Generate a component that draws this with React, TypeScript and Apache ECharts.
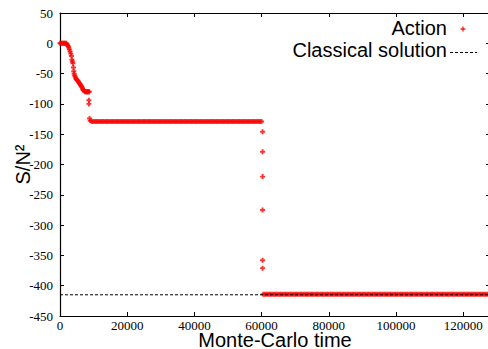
import React, { useEffect, useRef } from "react";
import * as echarts from "echarts";

// Monte-Carlo time and action S/N^2
const earlyTimes = [0, 300, 600, 900, 1200, 1500, 1800, 2000, 2200, 2400, 2600, 2800, 3000, 3200, 3400, 3550, 3700, 3850, 4000, 4100, 4200, 4350, 4500, 4700, 4900, 5100, 5300, 5500, 5700, 5900, 6100, 6300, 6500, 6700, 6900, 7100, 7300, 7500, 7700, 7900, 8100, 8300, 8500, 8700, 8600, 8600, 8800, 9000];
const earlyAction = [0, 0, 0, 0, 0, 0, 0, -1, -2.5, -4.5, -7, -10, -13.5, -17, -21, -27, -30, -33, -40, -46, -50, -53, -55, -58, -59.5, -60.5, -62, -63.5, -65.5, -67, -68.5, -70.5, -72, -74.5, -77, -78, -79, -80, -80, -80, -80, -80, -80, -80, -94, -100, -124, -128];

const plateau1Times = [
  9500, 10000, 10500, 11000, 11500, 12000, 12500, 13000, 13500, 14000,
  14500, 15000, 15500, 16000, 16500, 17000, 17500, 18000, 18500, 19000,
  19500, 20000, 20500, 21000, 21500, 22000, 22500, 23000, 23500, 24000,
  24500, 25000, 25500, 26000, 26500, 27000, 27500, 28000, 28500, 29000,
  29500, 30000, 30500, 31000, 31500, 32000, 32500, 33000, 33500, 34000,
  34500, 35000, 35500, 36000, 36500, 37000, 37500, 38000, 38500, 39000,
  39500, 40000, 40500, 41000, 41500, 42000, 42500, 43000, 43500, 44000,
  44500, 45000, 45500, 46000, 46500, 47000, 47500, 48000, 48500, 49000,
  49500, 50000, 50500, 51000, 51500, 52000, 52500, 53000, 53500, 54000,
  54500, 55000, 55500, 56000, 56500, 57000, 57500, 58000, 58500, 59000,
  59500, 60000,
];
const plateau1Action = [
  -129, -129, -129, -129, -129, -129, -129, -129, -129, -129,
  -129, -129, -129, -129, -129, -129, -129, -129, -129, -129,
  -129, -129, -129, -129, -129, -129, -129, -129, -129, -129,
  -129, -129, -129, -129, -129, -129, -129, -129, -129, -129,
  -129, -129, -129, -129, -129, -129, -129, -129, -129, -129,
  -129, -129, -129, -129, -129, -129, -129, -129, -129, -129,
  -129, -129, -129, -129, -129, -129, -129, -129, -129, -129,
  -129, -129, -129, -129, -129, -129, -129, -129, -129, -129,
  -129, -129, -129, -129, -129, -129, -129, -129, -129, -129,
  -129, -129, -129, -129, -129, -129, -129, -129, -129, -129,
  -129, -129,
];

const jumpTimes = [60300, 60300, 60300, 60300, 60300, 60300];
const jumpAction = [-146, -179, -220, -275, -358, -371];

const plateau2Times = [
  60500, 61000, 61500, 62000, 62500, 63000, 63500, 64000, 64500, 65000,
  65500, 66000, 66500, 67000, 67500, 68000, 68500, 69000, 69500, 70000,
  70500, 71000, 71500, 72000, 72500, 73000, 73500, 74000, 74500, 75000,
  75500, 76000, 76500, 77000, 77500, 78000, 78500, 79000, 79500, 80000,
  80500, 81000, 81500, 82000, 82500, 83000, 83500, 84000, 84500, 85000,
  85500, 86000, 86500, 87000, 87500, 88000, 88500, 89000, 89500, 90000,
  90500, 91000, 91500, 92000, 92500, 93000, 93500, 94000, 94500, 95000,
  95500, 96000, 96500, 97000, 97500, 98000, 98500, 99000, 99500, 100000,
  100500, 101000, 101500, 102000, 102500, 103000, 103500, 104000, 104500, 105000,
  105500, 106000, 106500, 107000, 107500, 108000, 108500, 109000, 109500, 110000,
  110500, 111000, 111500, 112000, 112500, 113000, 113500, 114000, 114500, 115000,
  115500, 116000, 116500, 117000, 117500, 118000, 118500, 119000, 119500, 120000,
  120500, 121000, 121500, 122000, 122500, 123000, 123500, 124000, 124500, 125000,
  125500, 126000, 126500, 127000, 127500, 128000,
];
const plateau2Action = [
  -414, -414, -414, -414, -414, -414, -414, -414, -414, -414,
  -414, -414, -414, -414, -414, -414, -414, -414, -414, -414,
  -414, -414, -414, -414, -414, -414, -414, -414, -414, -414,
  -414, -414, -414, -414, -414, -414, -414, -414, -414, -414,
  -414, -414, -414, -414, -414, -414, -414, -414, -414, -414,
  -414, -414, -414, -414, -414, -414, -414, -414, -414, -414,
  -414, -414, -414, -414, -414, -414, -414, -414, -414, -414,
  -414, -414, -414, -414, -414, -414, -414, -414, -414, -414,
  -414, -414, -414, -414, -414, -414, -414, -414, -414, -414,
  -414, -414, -414, -414, -414, -414, -414, -414, -414, -414,
  -414, -414, -414, -414, -414, -414, -414, -414, -414, -414,
  -414, -414, -414, -414, -414, -414, -414, -414, -414, -414,
  -414, -414, -414, -414, -414, -414, -414, -414, -414, -414,
  -414, -414, -414, -414, -414, -414,
];

const classicalTimes = [0, 128000];
const classicalSolution = [-415, -415];

const X_MIN = 0;
const X_MAX = 128000;
const X_INTERVAL = 20000;
const Y_MIN = -450;
const Y_MAX = 50;
const Y_INTERVAL = 50;

const PLUS = "path://M3.1,0H6.9V3.1H10V6.9H6.9V10H3.1V6.9H0V3.1H3.1Z";

function zip(ts: number[], vs: number[]) {
  const out: number[][] = [];
  for (let i = 0; i < ts.length && i < vs.length; i++) out.push([ts[i], vs[i]]);
  return out;
}

export default function App() {
  const ref = useRef<HTMLDivElement>(null);
  useEffect(() => {
    if (!ref.current) return;
    const chart = echarts.init(ref.current, undefined, { renderer: "svg" });
    const actionData = [
      ...zip(earlyTimes, earlyAction),
      ...zip(plateau1Times, plateau1Action),
      ...zip(jumpTimes, jumpAction),
      ...zip(plateau2Times, plateau2Action),
    ];
    const serif = "'Liberation Serif', 'Times New Roman', serif";
    const sans = "'Liberation Sans', Arial, sans-serif";
    const axisLine = { show: true, onZero: false, lineStyle: { color: "#000", width: 1.2 } };
    const tick = { show: true, inside: true, length: 4, lineStyle: { color: "#000", width: 1 } };
    const plain = (v: number) => String(v);
    chart.setOption({
      animation: false,
      backgroundColor: "#fff",
      grid: { left: 60, top: 13, right: 2, bottom: 33, containLabel: false, outerBoundsMode: "none" },
      xAxis: [
        {
          type: "value",
          min: X_MIN,
          max: X_MAX,
          interval: X_INTERVAL,
          position: "bottom",
          axisLine,
          axisTick: tick,
          splitLine: { show: false },
          axisLabel: { color: "#000", fontFamily: serif, fontSize: 13, lineHeight: 13, margin: 3, formatter: plain },
          name: "Monte-Carlo time",
          nameLocation: "middle",
          nameGap: 24,
          nameMoveOverlap: false,
          nameTextStyle: { color: "#000", fontFamily: sans, fontSize: 20, lineHeight: 16, verticalAlign: "middle" },
        },
        {
          type: "value",
          min: X_MIN,
          max: X_MAX,
          interval: X_INTERVAL,
          position: "top",
          axisLine,
          axisTick: tick,
          splitLine: { show: false },
          axisLabel: { show: false },
        },
      ],
      yAxis: [
        {
          type: "value",
          min: Y_MIN,
          max: Y_MAX,
          interval: Y_INTERVAL,
          position: "left",
          axisLine,
          axisTick: tick,
          splitLine: { show: false },
          axisLabel: { color: "#000", fontFamily: serif, fontSize: 13, margin: 7, formatter: plain },
          name: "S/N²",
          nameLocation: "middle",
          nameGap: 27,
          nameMoveOverlap: false,
          nameRotate: 90,
          nameTextStyle: { color: "#000", fontFamily: sans, fontSize: 20 },
        },
        {
          type: "value",
          min: Y_MIN,
          max: Y_MAX,
          interval: Y_INTERVAL,
          position: "right",
          axisLine,
          axisTick: tick,
          splitLine: { show: false },
          axisLabel: { show: false },
        },
      ],
      series: [
        {
          name: "Action",
          type: "scatter",
          data: actionData,
          symbol: PLUS,
          symbolSize: 5,
          itemStyle: { color: "#ff0000" },
          z: 2,
        },
        {
          name: "Classical solution",
          type: "line",
          data: zip(classicalTimes, classicalSolution),
          showSymbol: false,
          symbol: "none",
          lineStyle: { color: "#000", width: 1, type: [3, 2] },
          z: 3,
        },
      ],
      graphic: [
        {
          type: "text",
          right: 45,
          top: 18,
          style: { text: "Action", fill: "#000", font: `20px ${sans}`, textAlign: "right" },
        },
        {
          type: "text",
          right: 45,
          top: 40,
          style: { text: "Classical solution", fill: "#000", font: `20px ${sans}`, textAlign: "right" },
        },
        {
          type: "line",
          shape: { x1: 460.5, y1: 29, x2: 465.5, y2: 29 },
          style: { stroke: "#ff0000", lineWidth: 1.2 },
        },
        {
          type: "line",
          shape: { x1: 463, y1: 26.5, x2: 463, y2: 31.5 },
          style: { stroke: "#ff0000", lineWidth: 1.2 },
        },
        {
          type: "line",
          shape: { x1: 450, y1: 52.5, x2: 477, y2: 52.5 },
          style: { stroke: "#000", lineWidth: 1, lineDash: [3, 2] },
        },
      ],
    });
    return () => chart.dispose();
  }, []);
  return (
    <div style={{ position: "fixed", left: 0, top: 0, width: 488, height: 349, overflow: "hidden", background: "#fff" }}>
      <div ref={ref} style={{ width: 492, height: 349 }} />
    </div>
  );
}
